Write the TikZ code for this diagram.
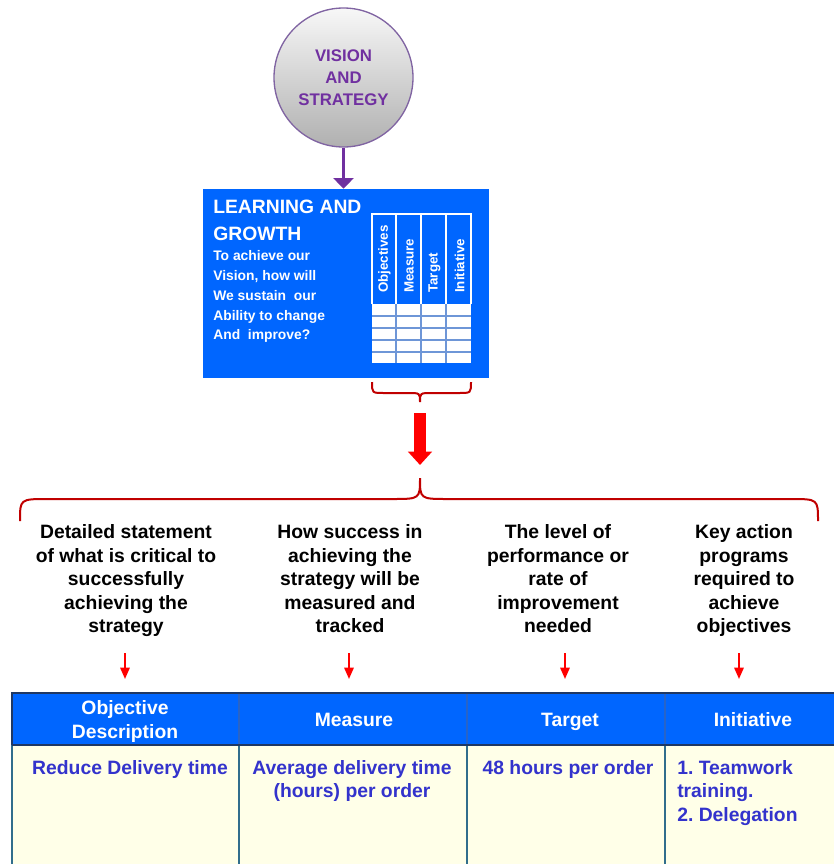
\documentclass[tikz,border=0pt]{standalone}
\usepackage{fontspec}
\setmainfont{Liberation Sans}
\usetikzlibrary{arrows.meta}
\definecolor{boxblue}{RGB}{0,102,255}
\definecolor{vpurple}{RGB}{112,48,160}
\definecolor{vborder}{RGB}{128,100,162}
\definecolor{brred}{RGB}{192,0,0}
\definecolor{navyline}{RGB}{31,56,100}
\definecolor{tealline}{RGB}{49,110,140}
\definecolor{hdrsep}{RGB}{40,100,200}
\definecolor{bodyyel}{RGB}{255,255,232}
\definecolor{bodytxt}{RGB}{51,51,204}
\definecolor{gridblue}{RGB}{110,150,215}
\begin{document}
\begin{tikzpicture}[x=0.75pt,y=-0.75pt,
  brace/.style={draw=brred, line width=1.5pt},
  smallarr/.style={draw=red, line width=1.5pt, -{Triangle[width=7pt,length=8.5pt]}},
  desc/.style={font=\bfseries\fontsize{14.5}{17.7}\selectfont, align=center, anchor=north, inner sep=0},
  hdr/.style={font=\bfseries\fontsize{14.5}{18}\selectfont, text=white, align=center, inner sep=0},
  cell/.style={font=\bfseries\fontsize{14.5}{17.6}\selectfont, text=bodytxt, inner sep=0},
  rotlab/.style={rotate=90, anchor=west, font=\bfseries\fontsize{10}{12}\selectfont, text=white, inner sep=0},
  gridl/.style={draw=gridblue, line width=1.1pt}
]
\useasboundingbox (0,0) rectangle (834,864);

% vision circle
\node[circle, minimum size=139*0.75pt, draw=vborder, line width=1pt,
      top color=gray!6, bottom color=gray!62, inner sep=0,
      font=\bfseries\fontsize{12.6}{16.3}\selectfont, text=vpurple, align=center]
      (vision) at (343.5,77.5) {VISION\\AND\\STRATEGY};

% learning and growth box
\node[fill=boxblue, minimum width=286*0.75pt, minimum height=189*0.75pt, inner sep=0] (lg) at (346,283.5) {};
\draw[vpurple, line width=2.2pt, -{Triangle[width=15pt,length=8pt]}] (vision.south) -- (vision.south |- lg.north);

\node[anchor=north west, font=\bfseries\fontsize{14.5}{20}\selectfont, text=white, align=left, inner sep=0]
  (lgtitle) at (213,200) {LEARNING AND\\GROWTH};
\node[anchor=north west, font=\bfseries\fontsize{10.4}{14.8}\selectfont, text=white, align=left, inner sep=0]
  (lgq) at (213,250.5) {To achieve our\\Vision, how will\\We sustain\ \ our\\Ability to change\\And\ \ improve?};

% inner mini table
\fill[white] (372,304) rectangle (471,363);
\foreach \yy in {316,328,340,352} \draw[gridl] (372,\yy) -- (471,\yy);
\foreach \xx in {396,421,446} \draw[gridl] (\xx,304) -- (\xx,363);
\draw[white, line width=0.9pt] (372,304) -- (372,214) -- (471,214) -- (471,304);
\foreach \xx in {396,421,446} \draw[white, line width=0.9pt] (\xx,214) -- (\xx,304);
\node[rotlab] (mObj) at (384.5,293) {Objectives};
\node[rotlab] (mMea) at (409,293) {Measure};
\node[rotlab] (mTar) at (434.5,293) {Target};
\node[rotlab] (mIni) at (459.5,293) {Initiative};

% small brace
\coordinate (sbL) at (372,382);
\coordinate (sbR) at (471,382);
\coordinate (sbTip) at (420,402);
\draw[brace] (sbL) .. controls (372,393) .. (384,393) -- (408,393)
  .. controls (420,393) .. (sbTip) .. controls (420,393) .. (432,393) -- (459,393)
  .. controls (471,393) .. (sbR);

% big red arrow
\coordinate (arrS) at (420,413);
\coordinate (arrE) at (420,465);
\draw[red, line width=9pt, -{Triangle[width=17.5pt,length=10pt]}] (arrS) -- (arrE);

% big brace
\coordinate (bbL) at (20,521);
\coordinate (bbR) at (818,521);
\coordinate (bbTip) at (420,478);
\draw[brace] (bbL) .. controls (20,499) .. (48,499) -- (392,499)
  .. controls (420,499) .. (bbTip) .. controls (420,499) .. (448,499) -- (790,499)
  .. controls (818,499) .. (bbR);

% descriptions
\node[desc] (d1) at (126,524.3) {Detailed statement\\of what is critical to\\successfully\\achieving the\\strategy};
\node[desc] (d2) at (350,524.3) {How success in\\achieving the\\strategy will be\\measured and\\tracked};
\node[desc] (d3) at (558,524.3) {The level of\\performance or\\rate of\\improvement\\needed};
\node[desc] (d4) at (744,524.3) {Key action\\programs\\required to\\achieve\\objectives};

% small arrows
\foreach \xx/\nm in {125/a1,349/a2,565/a3,739/a4} {
  \coordinate (\nm s) at (\xx,653);
  \coordinate (\nm e) at (\xx,679);
  \draw[smallarr] (\nm s) -- (\nm e);
}

% bottom table
\fill[boxblue] (12,693) rectangle (834,745);
\fill[bodyyel] (12,745) rectangle (834,864);
\foreach \xx in {239,467,665} \draw[hdrsep, line width=0.8pt] (\xx,693) -- (\xx,745);
\foreach \xx in {12,239,467,665} \draw[tealline, line width=0.9pt] (\xx,745) -- (\xx,864);
\draw[navyline, line width=1.5pt] (12,745) -- (834,745);
\draw[navyline, line width=2pt] (12,745) -- (12,693) -- (834,693);

\node[hdr, anchor=north] (h1) at (125,700) {Objective\\Description};
\node[hdr, anchor=base] (h2) at (354,726) {Measure};
\node[hdr, anchor=base] (h3) at (570,726) {Target};
\node[hdr, anchor=base] (h4) at (753,726) {Initiative};

\node[cell, anchor=north, align=center] (b1) at (130,760) {Reduce Delivery time};
\node[cell, anchor=north, align=center] (b2) at (352,760) {Average delivery time\\(hours) per order};
\node[cell, anchor=north, align=center] (b3) at (568,760) {48 hours per order};
\node[cell, anchor=north west, align=left] (b4) at (677,760) {1.\ Teamwork\\training.\\2.\ Delegation};
\end{tikzpicture}
\end{document}
